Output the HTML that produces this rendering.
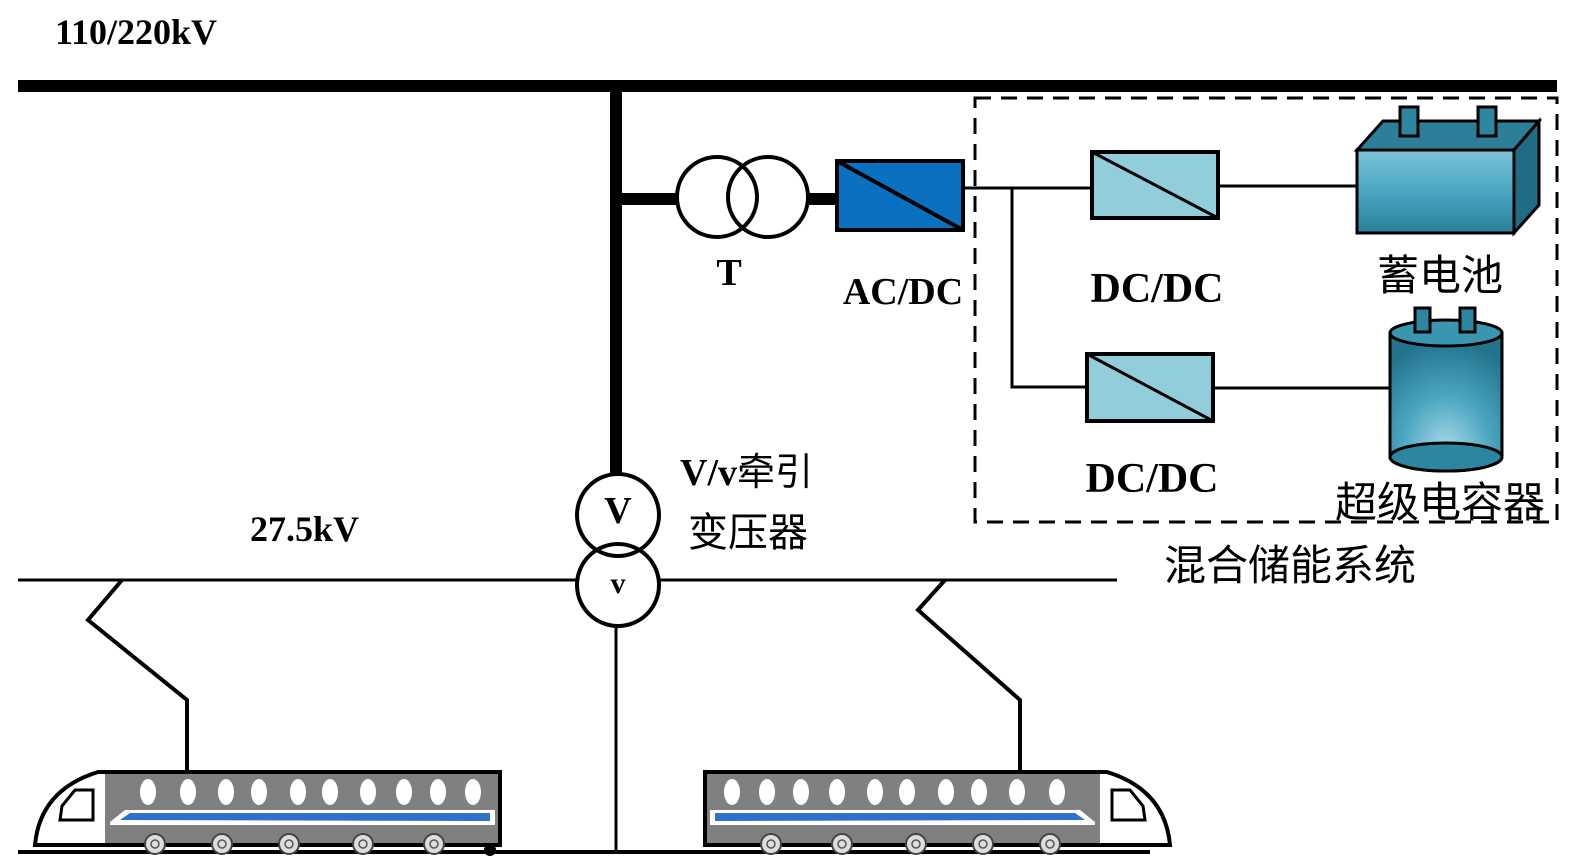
<!DOCTYPE html>
<html><head><meta charset="utf-8"><style>
body{margin:0;background:#fff}
svg{display:block}
.b{font-family:"Liberation Serif","Noto Serif CJK SC",serif;font-weight:bold}
.c{font-family:"Liberation Sans","Noto Sans CJK SC",sans-serif}
</style></head><body>
<svg width="1580" height="868" viewBox="0 0 1580 868" xmlns="http://www.w3.org/2000/svg">
<defs>
<linearGradient id="bat" x1="0" y1="0" x2="0" y2="1"><stop offset="0" stop-color="#7cc4d8"/><stop offset="0.5" stop-color="#4aa6c2"/><stop offset="1" stop-color="#2b7f99"/></linearGradient>
<radialGradient id="cap" cx="0.5" cy="0.85" r="0.8"><stop offset="0" stop-color="#a8dbe8"/><stop offset="0.5" stop-color="#4ba5c0"/><stop offset="1" stop-color="#23738c"/></radialGradient>
<g id="train">
  <path d="M98 772 L500 772 L500 845 L35 845 Q40 790 98 772 Z" fill="#fff" stroke="#000" stroke-width="4"/>
  <rect x="105" y="774" width="393" height="69" fill="#808080"/>
  <path d="M62 806 L75 790 L93 790 L93 820 L60 820 Z" fill="#fff" stroke="#000" stroke-width="3"/>
  <g fill="#fff">
  <ellipse cx="148" cy="792" rx="8" ry="13"/><ellipse cx="188" cy="792" rx="8" ry="13"/><ellipse cx="226" cy="792" rx="8" ry="13"/><ellipse cx="259" cy="792" rx="8" ry="13"/><ellipse cx="298" cy="792" rx="8" ry="13"/><ellipse cx="330" cy="792" rx="8" ry="13"/><ellipse cx="368" cy="792" rx="8" ry="13"/><ellipse cx="404" cy="792" rx="8" ry="13"/><ellipse cx="438" cy="792" rx="8" ry="13"/><ellipse cx="473" cy="792" rx="8" ry="13"/>
  </g>
  <path d="M110 822 L125 810 L495 810 L495 825 L110 825 Z" fill="#fff"/>
  <path d="M120 820 L130 813 L490 813 L490 821 Z" fill="#2f6fcf"/>
  <g fill="#ddd" stroke="#444" stroke-width="2">
  <circle cx="155" cy="844" r="10"/><circle cx="222" cy="844" r="10"/><circle cx="289" cy="844" r="10"/><circle cx="363" cy="844" r="10"/><circle cx="434" cy="844" r="10"/>
  </g>
  <g fill="none" stroke="#555" stroke-width="1.5">
  <circle cx="155" cy="844" r="4"/><circle cx="222" cy="844" r="4"/><circle cx="289" cy="844" r="4"/><circle cx="363" cy="844" r="4"/><circle cx="434" cy="844" r="4"/>
  </g>
</g>
</defs>

<line x1="18" y1="86" x2="1557" y2="86" stroke="#000" stroke-width="12"/>
<line x1="616" y1="86" x2="616" y2="474" stroke="#000" stroke-width="12"/>
<line x1="616" y1="199" x2="678" y2="199" stroke="#000" stroke-width="12"/>
<circle cx="717" cy="197" r="40" fill="none" stroke="#000" stroke-width="4"/>
<circle cx="768" cy="197" r="40" fill="none" stroke="#000" stroke-width="4"/>
<line x1="808" y1="199" x2="837" y2="199" stroke="#000" stroke-width="12"/>
<rect x="837" y="161" width="126" height="69" fill="#0a70c0" stroke="#000" stroke-width="4"/>
<line x1="837" y1="161" x2="963" y2="230" stroke="#000" stroke-width="4"/>

<polyline points="963,188 1092,188" fill="none" stroke="#000" stroke-width="3"/>
<polyline points="1012,188 1012,387 1087,387" fill="none" stroke="#000" stroke-width="3"/>
<rect x="1092" y="152" width="126" height="66" fill="#92cddc" stroke="#000" stroke-width="4"/>
<line x1="1092" y1="152" x2="1218" y2="218" stroke="#000" stroke-width="3"/>
<rect x="1087" y="354" width="126" height="67" fill="#92cddc" stroke="#000" stroke-width="4"/>
<line x1="1087" y1="354" x2="1213" y2="421" stroke="#000" stroke-width="3"/>
<line x1="1218" y1="186" x2="1357" y2="186" stroke="#000" stroke-width="3"/>
<line x1="1213" y1="388" x2="1390" y2="388" stroke="#000" stroke-width="3"/>

<rect x="975" y="98" width="582" height="424" fill="none" stroke="#000" stroke-width="3" stroke-dasharray="16,10"/>

<path d="M1357 150 L1383 121 L1539 121 L1514 150 Z" fill="#2d7f99" stroke="#000" stroke-width="3"/>
<path d="M1514 150 L1539 121 L1539 205 L1514 233 Z" fill="#1f6c84" stroke="#000" stroke-width="3"/>
<rect x="1357" y="150" width="157" height="83" fill="url(#bat)" stroke="#000" stroke-width="3"/>
<rect x="1400" y="107" width="18" height="29" fill="#2d86a0" stroke="#000" stroke-width="3"/>
<rect x="1478" y="107" width="18" height="29" fill="#2d86a0" stroke="#000" stroke-width="3"/>
<text x="1440" y="290" font-size="42" text-anchor="middle" class="c">蓄电池</text>

<path d="M1390 333 L1390 457 A56 14 0 0 0 1502 457 L1502 333 Z" fill="url(#cap)" stroke="#000" stroke-width="3"/>
<ellipse cx="1446" cy="457" rx="56" ry="14" fill="#2d86a0" stroke="#000" stroke-width="3"/>
<ellipse cx="1446" cy="333" rx="56" ry="13" fill="#3a95b0" stroke="#000" stroke-width="3"/>
<rect x="1415" y="308" width="15" height="24" fill="#2d86a0" stroke="#000" stroke-width="3"/>
<rect x="1460" y="308" width="15" height="24" fill="#2d86a0" stroke="#000" stroke-width="3"/>
<text x="1440" y="517" font-size="42" text-anchor="middle" class="c">超级电容器</text>

<line x1="18" y1="580" x2="577" y2="580" stroke="#000" stroke-width="3"/>
<line x1="659" y1="580" x2="1117" y2="580" stroke="#000" stroke-width="3"/>
<circle cx="618" cy="515" r="41" fill="none" stroke="#000" stroke-width="4"/>
<circle cx="618" cy="585" r="41" fill="none" stroke="#000" stroke-width="4"/>
<line x1="616" y1="626" x2="616" y2="852" stroke="#000" stroke-width="3"/>
<text x="618" y="523" font-size="38" text-anchor="middle" class="b">V</text>
<text x="618" y="593" font-size="30" text-anchor="middle" class="b">v</text>

<line x1="18" y1="852" x2="1150" y2="852" stroke="#000" stroke-width="4"/>
<circle cx="490" cy="850" r="6" fill="#000"/>

<polyline points="122,580 88,620 187,700 187,772" fill="none" stroke="#000" stroke-width="4"/>
<polyline points="945,580 918,610 1020,700 1020,772" fill="none" stroke="#000" stroke-width="4"/>

<use href="#train"/>
<use href="#train" transform="translate(1205,0) scale(-1,1)"/>

<text x="55" y="44" font-size="36" class="b">110/220kV</text>
<text x="250" y="541" font-size="36" class="b">27.5kV</text>
<text x="729" y="285" font-size="38" text-anchor="middle" class="b">T</text>
<text x="903" y="304" font-size="38" text-anchor="middle" class="b">AC/DC</text>
<text x="1157" y="302" font-size="42" text-anchor="middle" class="b">DC/DC</text>
<text x="1152" y="492" font-size="42" text-anchor="middle" class="b">DC/DC</text>
<text x="680" y="485" font-size="38" class="b">V/v<tspan class="c" style="font-weight:normal">牵引</tspan></text>
<text x="688" y="546" font-size="40" class="c">变压器</text>
<text x="1290" y="580" font-size="42" text-anchor="middle" class="c">混合储能系统</text>
</svg>
</body></html>
